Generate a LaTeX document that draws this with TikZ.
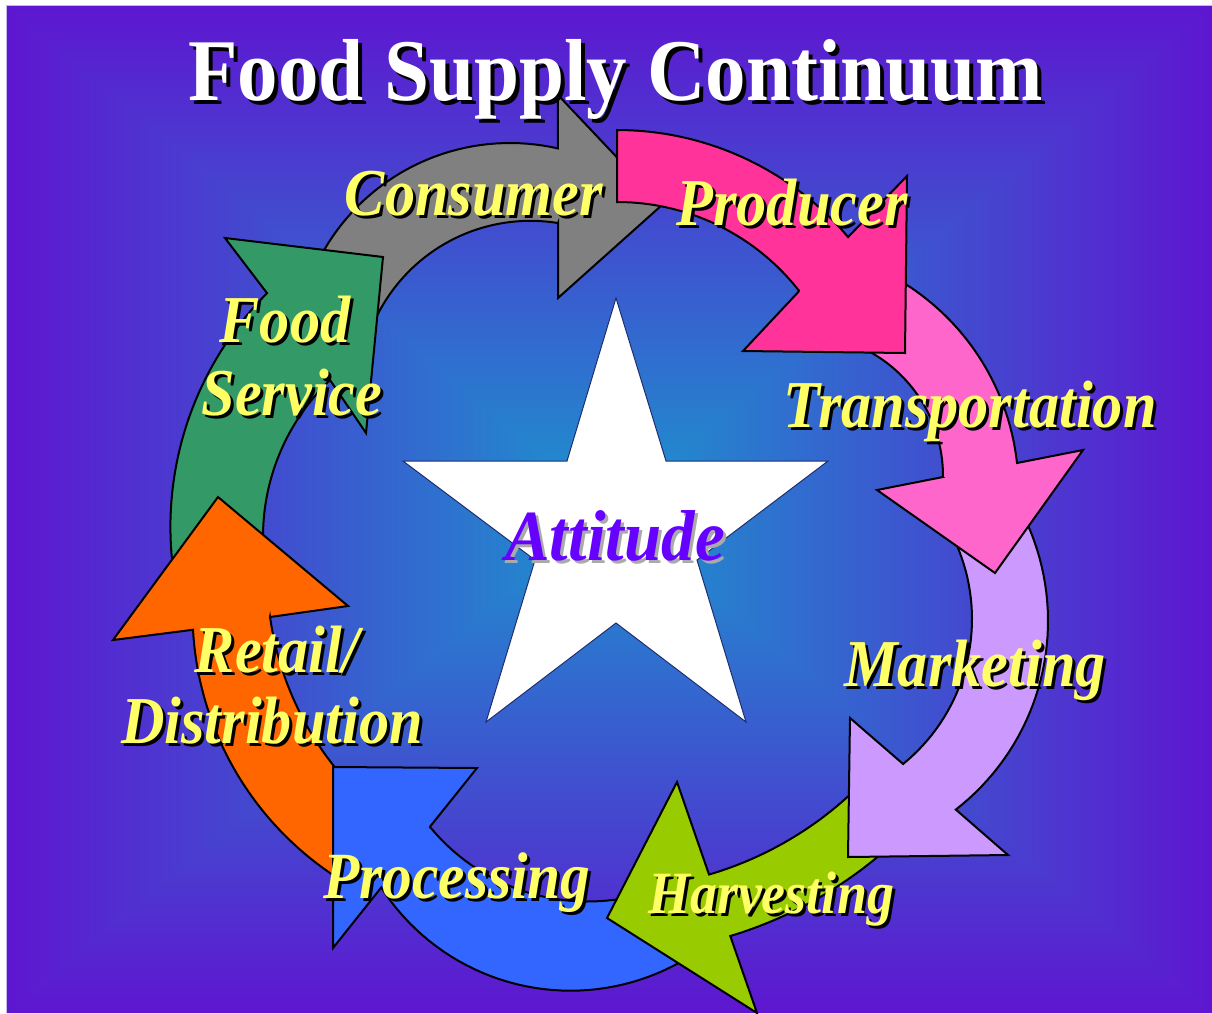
\documentclass[tikz,border=0pt]{standalone}
\usepackage{fontspec}
\setmainfont{Liberation Serif}
\newfontfamily\titlefont[FakeStretch=0.92]{Liberation Serif}
\newfontfamily\labfont[FakeStretch=0.9]{Liberation Serif}
\newfontfamily\attfont[FakeStretch=0.93]{Liberation Serif}
\definecolor{bgout}{RGB}{94,22,208}
\definecolor{bgin}{RGB}{28,148,206}
\definecolor{bgborder}{RGB}{196,184,236}
\definecolor{labyellow}{RGB}{255,255,102}
\definecolor{cgray}{RGB}{128,128,128}
\definecolor{cmagenta}{RGB}{255,51,153}
\definecolor{cpink}{RGB}{255,102,204}
\definecolor{clav}{RGB}{204,153,255}
\definecolor{cgreenh}{RGB}{153,204,0}
\definecolor{cblue}{RGB}{51,102,255}
\definecolor{corange}{RGB}{255,102,0}
\definecolor{cgreenf}{RGB}{51,153,102}
\definecolor{attpurple}{RGB}{102,0,255}
\definecolor{attshadow}{RGB}{170,170,170}
\definecolor{starline}{RGB}{30,45,110}
% text with a drop shadow: colour, offset, text
\newcommand{\shadowed}[3]{\makebox[0pt][l]{\hspace*{#2}\raisebox{-#2}{\textcolor{#1}{#3}}}#3}
\tikzset{
  blockarrow/.style={draw=black, line width=2pt, line join=miter},
  lab/.style={font=\labfont\bfseries\itshape\fontsize{#1}{#1}\selectfont, text=labyellow, inner sep=0pt, anchor=base},
  lab/.default=67,
  titletext/.style={font=\titlefont\bfseries\fontsize{88}{88}\selectfont, text=white, inner sep=0pt, anchor=base},
  atttext/.style={font=\attfont\bfseries\itshape\fontsize{72}{72}\selectfont, text=attpurple, inner sep=0pt, anchor=base},
  starshape/.style={fill=white, draw=starline, line width=1pt, line join=miter},
  arcsamples/.style={samples=40},
}
\begin{document}
\begin{tikzpicture}[x=1pt,y=-1pt]
\fill[white] (0,0) rectangle (1212,1013);
\useasboundingbox (0,0) rectangle (1212,1013);
\coordinate (bgc) at (609.5,509.5);
% background: rectangular gradient from the centre
\begin{scope}
  \clip (7,6) -- (bgc) -- (7,1013) -- cycle;
  \shade[left color=bgout, right color=bgin] (7,6) rectangle (609.5,1013);
\end{scope}
\begin{scope}
  \clip (1212,6) -- (bgc) -- (1212,1013) -- cycle;
  \shade[left color=bgin, right color=bgout] (609.5,6) rectangle (1212,1013);
\end{scope}
\begin{scope}
  \clip (4,6) -- (1215,6) -- (609.5,513) -- cycle;
  \shade[top color=bgout, bottom color=bgin] (7,6) rectangle (1212,509.5);
\end{scope}
\begin{scope}
  \clip (4,1013) -- (1215,1013) -- (609.5,506) -- cycle;
  \shade[top color=bgin, bottom color=bgout] (7,509.5) rectangle (1212,1013);
\end{scope}
\draw[bgborder, line width=1pt] (6.5,1013) -- (6.5,5.5) -- (1212,5.5);

% star
\draw[starshape] (616,298) -- (666,461) -- (828,461) -- (697,560) -- (746,722) -- (616,623)
  -- (486,722) -- (535,560) -- (403,461) -- (567,461) -- cycle;

% Consumer (gray)
\draw[blockarrow, fill=cgray]
  plot[arcsamples, domain=-158:-77.12] ({510+215*cos(\x)}, {358+215*sin(\x)})
  -- (558,95) -- (662,205) -- (558,298) -- (558,223)
  -- plot[arcsamples, domain=-80.78:-157] ({530.5+171.6*cos(\x)}, {392.4+171.6*sin(\x)})
  -- cycle;
% Food Service (green)
\draw[blockarrow, fill=cgreenf]
  plot[arcsamples, domain=170:224.9] ({501.7+331.3*cos(\x)}, {527+331.3*sin(\x)})
  -- (225,238) -- (383,257) -- (366,433) -- (330,380)
  -- plot[arcsamples, domain=226.3:168] ({479.6+216.6*cos(\x)}, {536.7+216.6*sin(\x)})
  -- cycle;
% Retail/Distribution (orange)
\draw[blockarrow, fill=corange]
  plot[arcsamples, domain=120:176.8] ({508.7+316.2*cos(\x)}, {612.1+316.2*sin(\x)})
  -- (113,640) -- (218,497) -- (348,606) -- (270,617)
  -- plot[arcsamples, domain=172:138] ({576.8+309.8*cos(\x)}, {573.8+309.8*sin(\x)})
  -- cycle;
% Processing (blue)
\draw[blockarrow, fill=cblue]
  plot[arcsamples, domain=58:147.2] ({570.5+225.2*cos(\x)}, {765.5+225.2*sin(\x)})
  -- (333,948) -- (333,767) -- (477,768) -- (429.9,826.8)
  -- plot[arcsamples, domain=140.7:65] ({587.7+204*cos(\x)}, {697.5+204*sin(\x)})
  -- cycle;
% Harvesting (yellow-green)
\draw[blockarrow, fill=cgreenh]
  plot[arcsamples, domain=46:73.2] ({608.6+421*cos(\x)}, {533+421*sin(\x)})
  -- (757,1013) -- (607,918) -- (677,782) -- (709,874.5)
  -- plot[arcsamples, domain=73.6:44] ({608.6+356*cos(\x)}, {533+356*sin(\x)})
  -- cycle;
% Marketing (lavender)
\draw[blockarrow, fill=clav]
  plot[arcsamples, domain=-30:52.1] ({809+239*cos(\x)}, {621+239*sin(\x)})
  -- (1008,855) -- (848,857) -- (850,718) -- (903.1,764)
  -- plot[arcsamples, domain=50.8:-32] ({785+187*cos(\x)}, {619+187*sin(\x)})
  -- cycle;
% Transportation (pink)
\draw[blockarrow, fill=cpink]
  plot[arcsamples, domain=-65:-6.33] ({774.5+244*cos(\x)}, {489.9+244*sin(\x)})
  -- (1083,450) -- (995,573) -- (877,490) -- (943,477)
  -- plot[arcsamples, domain=0.4:-75] ({801+142*cos(\x)}, {476+142*sin(\x)})
  -- cycle;
% Producer (magenta)
\draw[blockarrow, fill=cmagenta]
  plot[arcsamples, domain=-90:-40.3] ({617+303*cos(\x)}, {433+303*sin(\x)})
  -- (907,176) -- (905,353) -- (743,351) -- (799.2,291)
  -- plot[arcsamples, domain=-37.9:-90] ({617+231*cos(\x)}, {433+231*sin(\x)})
  -- cycle;

% texts
\node[titletext] (title) at (616,100) {\shadowed{black}{4pt}{Food Supply Continuum}};
\node[atttext] (attitude) at (615,560) {\shadowed{attshadow}{3pt}{Attitude}};

\node[lab] (consumer) at (474,215) {\shadowed{black}{3pt}{Consumer}};
\node[lab] (producer) at (792,225) {\shadowed{black}{3pt}{Producer}};
\node[lab] (transp) at (970,427) {\shadowed{black}{3pt}{Transportation}};
\node[lab] (marketing) at (975,686) {\shadowed{black}{3pt}{Marketing}};
\node[lab=60] (harvesting) at (771,913) {\shadowed{black}{3pt}{Harvesting}};
\node[lab=66] (processing) at (457,898) {\shadowed{black}{3pt}{Processing}};
\node[lab] (retail) at (277,672) {\shadowed{black}{3pt}{Retail/}};
\node[lab] (distrib) at (272,743) {\shadowed{black}{3pt}{Distribution}};
\node[lab] (food) at (285,342) {\shadowed{black}{3pt}{Food}};
\node[lab] (service) at (292,415) {\shadowed{black}{3pt}{Service}};
\end{tikzpicture}
\end{document}
